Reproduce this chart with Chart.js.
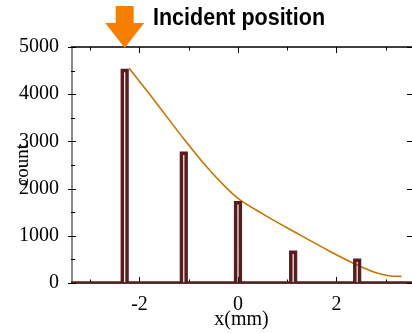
<!DOCTYPE html>
<html>
<head>
<meta charset="utf-8">
<script src="https://cdn.jsdelivr.net/npm/chart.js@4"></script>
<style>
  html, body { margin: 0; padding: 0; background: #fff; }
  #wrap { width: 412px; height: 333px; }
</style>
</head>
<body>
<div id="wrap"><canvas id="myChart" width="412" height="333"></canvas></div>
<script>
// peaks of the measured histogram
const peakX = [-2.30, -1.10, 0.0, 1.12, 2.42]
const peakCounts = [4500, 2750, 1700, 650, 480]
const peakWidth = 0.095
// orange envelope curve
const curveX = [-2.21, -1.72, -1.11, -0.64, -0.25, -0.02, 0.51, 1.19, 1.87, 2.41, 2.82, 3.09, 3.32]
const curveY = [4548, 3900, 3067, 2467, 2030, 1810, 1460, 1058, 669, 387, 212, 150, 140]
const xTickLabels = [-2, 0, 2]
const xMinorTicks = [-3, -1, 1, 3]
const yTickLabels = [0, 1000, 2000, 3000, 4000, 5000]
const yMinorTicks = [500, 1500, 2500, 3500, 4500]
const incidentX = -2.3
const incidentLabel = "Incident position"

const X_MIN = -3.39
const X_MAX = 3.533

function histogramPoints() {
  const pts = [{ x: X_MIN, y: 0 }]
  peakX.forEach((p, i) => {
    const a = p - peakWidth / 2
    const b = p + peakWidth / 2
    pts.push({ x: a, y: 0 }, { x: a, y: peakCounts[i] }, { x: b, y: peakCounts[i] }, { x: b, y: 0 })
  })
  pts.push({ x: X_MAX, y: 0 })
  return pts
}

const framePlugin = {
  id: "frame",
  beforeDatasetsDraw(chart) {
    const { ctx, chartArea: a, scales: { x, y } } = chart
    ctx.save()
    // top and bottom frame
    ctx.strokeStyle = "#000"
    ctx.lineWidth = 1.5
    ctx.beginPath()
    ctx.moveTo(a.left, a.top)
    ctx.lineTo(a.right, a.top)
    ctx.moveTo(a.left, a.bottom)
    ctx.lineTo(a.right, a.bottom)
    ctx.stroke()
    // left axis (grey)
    ctx.strokeStyle = "#8a8a8a"
    ctx.lineWidth = 2
    ctx.beginPath()
    ctx.moveTo(a.left + 1, a.top)
    ctx.lineTo(a.left + 1, a.bottom)
    ctx.stroke()
    // ticks
    ctx.strokeStyle = "#000"
    ctx.lineWidth = 1
    ctx.beginPath()
    xTickLabels.forEach((v) => {
      const px = Math.round(x.getPixelForValue(v)) + 0.5
      ctx.moveTo(px, a.top); ctx.lineTo(px, a.top + 6)
      ctx.moveTo(px, a.bottom); ctx.lineTo(px, a.bottom - 6)
    })
    xMinorTicks.forEach((v) => {
      const px = Math.round(x.getPixelForValue(v)) + 0.5
      ctx.moveTo(px, a.top); ctx.lineTo(px, a.top + 3.5)
      ctx.moveTo(px, a.bottom); ctx.lineTo(px, a.bottom - 3.5)
    })
    yTickLabels.forEach((v) => {
      const py = Math.round(y.getPixelForValue(v)) + 0.5
      ctx.moveTo(a.left - 3, py); ctx.lineTo(a.left + 5, py)
      ctx.moveTo(a.right, py); ctx.lineTo(a.right - 5, py)
    })
    yMinorTicks.forEach((v) => {
      const py = Math.round(y.getPixelForValue(v)) + 0.5
      ctx.moveTo(a.left, py); ctx.lineTo(a.left + 4, py)
    })
    ctx.stroke()
    ctx.restore()
  },
  afterDraw(chart) {
    const { ctx, chartArea: a, scales: { x } } = chart
    const cx = x.getPixelForValue(incidentX)
    ctx.save()
    // arrow pointing at incident position
    ctx.fillStyle = "#f77f00"
    ctx.beginPath()
    ctx.moveTo(cx - 9, 6)
    ctx.lineTo(cx + 9, 6)
    ctx.lineTo(cx + 9, 23)
    ctx.lineTo(cx + 19.5, 23)
    ctx.lineTo(cx, a.top + 1)
    ctx.lineTo(cx - 19.5, 23)
    ctx.lineTo(cx - 9, 23)
    ctx.closePath()
    ctx.fill()
    // label
    ctx.fillStyle = "#000"
    ctx.font = "bold 23px 'Liberation Sans', Arial, sans-serif"
    ctx.textBaseline = "alphabetic"
    ctx.translate(153, 25)
    ctx.scale(0.935, 1)
    ctx.fillText(incidentLabel, 0, 0)
    ctx.restore()
  },
}

const ctx = document.getElementById("myChart").getContext("2d")
const config = {
  type: "line",
  data: {
    datasets: [
      {
        label: "histogram",
        data: histogramPoints(),
        borderColor: "#5a1c1c",
        borderWidth: 3.5,
        borderJoinStyle: "miter",
        pointRadius: 0,
        tension: 0,
        fill: false,
        order: 1,
      },
      {
        label: "curve",
        data: curveX.map((v, i) => ({ x: v, y: curveY[i] })),
        borderColor: "#c87400",
        borderWidth: 1.6,
        pointRadius: 0,
        cubicInterpolationMode: "monotone",
        fill: false,
        order: 2,
      },
    ],
  },
  options: {
    responsive: false,
    animation: false,
    layout: { padding: { top: 47, right: 0, left: 0, bottom: 0 } },
    plugins: { legend: { display: false }, tooltip: { enabled: false } },
    scales: {
      x: {
        type: "linear",
        min: X_MIN,
        max: X_MAX,
        afterBuildTicks: (s) => { s.ticks = xTickLabels.map((v) => ({ value: v })) },
        afterFit: (s) => { s.height = 50 },
        grid: { display: false },
        border: { display: false },
        ticks: {
          color: "#000",
          padding: 2,
          maxRotation: 0,
          font: { family: "'Liberation Serif', 'Times New Roman', serif", size: 20 },
          callback: (v) => `${v}`,
        },
        title: {
          display: true,
          text: "x(mm)",
          color: "#000",
          padding: { top: 0, bottom: 1 },
          font: { family: "'Liberation Serif', 'Times New Roman', serif", size: 20 },
        },
      },
      y: {
        type: "linear",
        min: 0,
        max: 5000,
        afterBuildTicks: (s) => { s.ticks = yTickLabels.map((v) => ({ value: v })) },
        afterFit: (s) => { s.width = 71 },
        grid: { display: false },
        border: { display: false },
        ticks: {
          color: "#000",
          padding: 4,
          font: { family: "'Liberation Serif', 'Times New Roman', serif", size: 20 },
          callback: (v) => `${v}`,
        },
        title: {
          display: true,
          text: "count",
          color: "#000",
          padding: { top: 12, bottom: 0 },
          font: { family: "'Liberation Serif', 'Times New Roman', serif", size: 19 },
        },
      },
    },
  },
  plugins: [framePlugin],
}
var myChart = new Chart(ctx, config)
</script>
</body>
</html>
